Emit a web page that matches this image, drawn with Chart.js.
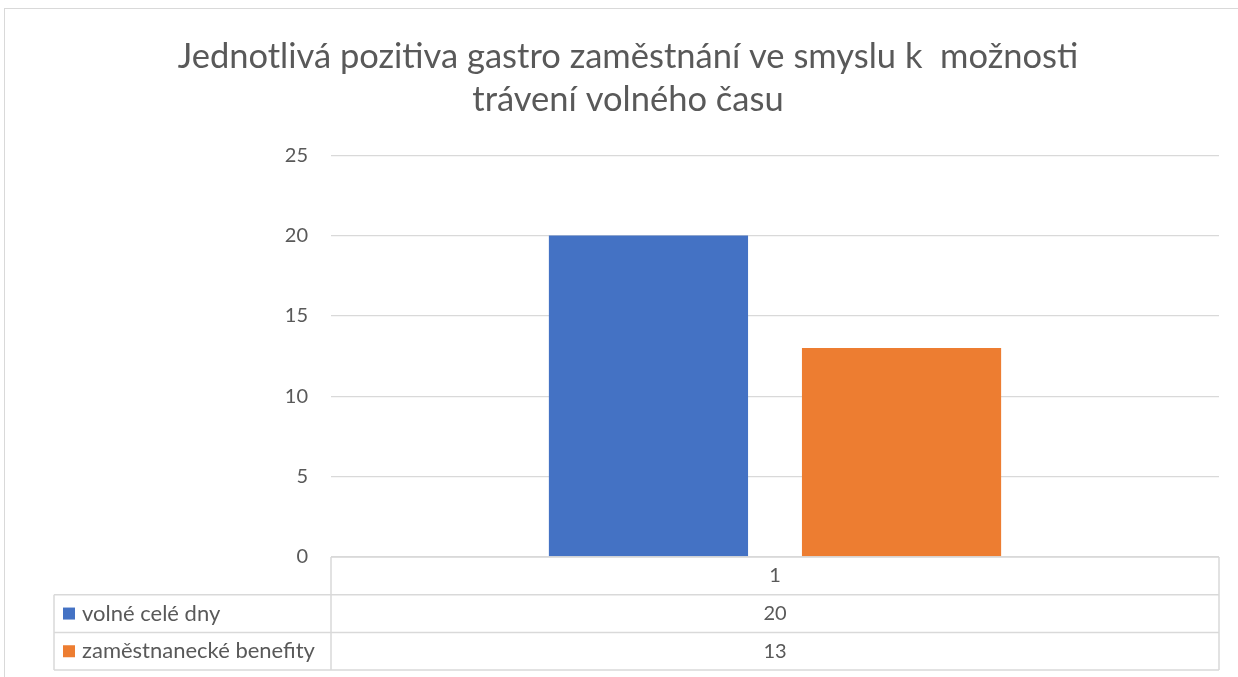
<!DOCTYPE html>
<html>
<head>
<meta charset="utf-8">
<script src="https://cdn.jsdelivr.net/npm/chart.js@4"></script>
<style>
    body { margin: 0; overflow: hidden; background: #fff; }
    .wrap { position: relative; width: 1238px; height: 677px; }
    .frame { position: absolute; left: 4px; top: 8px; width: 1300px; height: 700px;
             border-top: 1.5px solid #d9d9d9; border-left: 1.5px solid #d9d9d9; }
    canvas { position: absolute; left: 0; top: 0; }
</style>
</head>
<body>
<div class="wrap">
    <div class="frame"></div>
    <canvas id="chart" width="1238" height="677"></canvas>
</div>
<script>
const titleLines = ['Jednotlivá pozitiva gastro zaměstnání ve smyslu k  možnosti', 'trávení volného času'];
const categories = ['1'];
const seriesNames = ['volné celé dny', 'zaměstnanecké benefity'];
const volneCeleDny = [20];
const zamestnaneckeBenefity = [13];
const seriesColors = ['#4472C4', '#ED7D31'];
const yMin = 0;
const yMax = 25;
const yStep = 5;

const textColor = '#595959';
const lineColor = '#d9d9d9';

// data table under the plot, drawn like the excel one
const dataTablePlugin = {
    id: 'dataTable',
    afterDraw(chart) {
        const ctx = chart.ctx;
        const area = chart.chartArea;
        const xScale = chart.scales.x;
        const rowH = 37.7;
        const top = area.bottom;
        const tableLeft = 54;
        const rows = chart.data.datasets.length;
        const bottom = top + rowH * (rows + 1);

        ctx.save();
        ctx.strokeStyle = lineColor;
        ctx.lineWidth = 1.5;
        ctx.beginPath();
        // header row outline
        ctx.moveTo(area.left, top);
        ctx.lineTo(area.right, top);
        ctx.moveTo(area.left, top);
        ctx.lineTo(area.left, bottom);
        ctx.moveTo(area.right, top);
        ctx.lineTo(area.right, bottom);
        for (let r = 1; r <= rows + 1; r++) {
            const y = top + rowH * r;
            ctx.moveTo(tableLeft, y);
            ctx.lineTo(area.right, y);
        }
        ctx.moveTo(tableLeft, top + rowH);
        ctx.lineTo(tableLeft, bottom);
        // column dividers between categories
        for (let i = 1; i < categories.length; i++) {
            const xm = (xScale.getPixelForValue(i - 1) + xScale.getPixelForValue(i)) / 2;
            ctx.moveTo(xm, top);
            ctx.lineTo(xm, bottom);
        }
        ctx.stroke();

        ctx.fillStyle = textColor;
        ctx.textBaseline = 'middle';
        ctx.textAlign = 'center';
        ctx.font = '20px Lato';
        categories.forEach((cat, i) => {
            ctx.fillText(cat, xScale.getPixelForValue(i), top + rowH / 2);
        });

        chart.data.datasets.forEach((ds, k) => {
            const yc = top + rowH * (k + 1) + rowH / 2;
            ctx.fillStyle = ds.backgroundColor;
            ctx.fillRect(63, yc - 6, 12, 12);
            ctx.fillStyle = textColor;
            ctx.textAlign = 'left';
            ctx.font = '22px Lato';
            ctx.fillText(ds.label, 82, yc);
            ctx.textAlign = 'center';
            ctx.font = '20px Lato';
            ds.data.forEach((v, i) => {
                ctx.fillText(String(v), xScale.getPixelForValue(i), yc);
            });
        });
        ctx.restore();
    }
};

const data = {
    labels: categories,
    datasets: [{
        label: seriesNames[0],
        data: volneCeleDny,
        backgroundColor: seriesColors[0]
    }, {
        label: seriesNames[1],
        data: zamestnaneckeBenefity,
        backgroundColor: seriesColors[1]
    }]
};

const config = {
    type: 'bar',
    data: data,
    plugins: [dataTablePlugin],
    options: {
        responsive: false,
        animation: false,
        categoryPercentage: 0.57,
        barPercentage: 0.787,
        layout: {
            padding: { left: 37, right: 19, top: 0, bottom: 120 }
        },
        plugins: {
            legend: { display: false },
            tooltip: { enabled: false },
            title: {
                display: true,
                text: titleLines,
                color: textColor,
                font: { family: 'Lato', size: 34.5, weight: 'normal', lineHeight: 1.25 },
                padding: { top: 35, bottom: 34 }
            }
        },
        scales: {
            x: { display: false },
            y: {
                min: yMin,
                max: yMax,
                afterFit: function (scale) { scale.width = 294; },
                ticks: {
                    stepSize: yStep,
                    color: textColor,
                    font: { family: 'Lato', size: 20 },
                    padding: 23
                },
                grid: { color: lineColor, lineWidth: 1.3, drawTicks: false },
                border: { display: false }
            }
        }
    }
};

new Chart(document.getElementById('chart'), config);
</script>
</body>
</html>
